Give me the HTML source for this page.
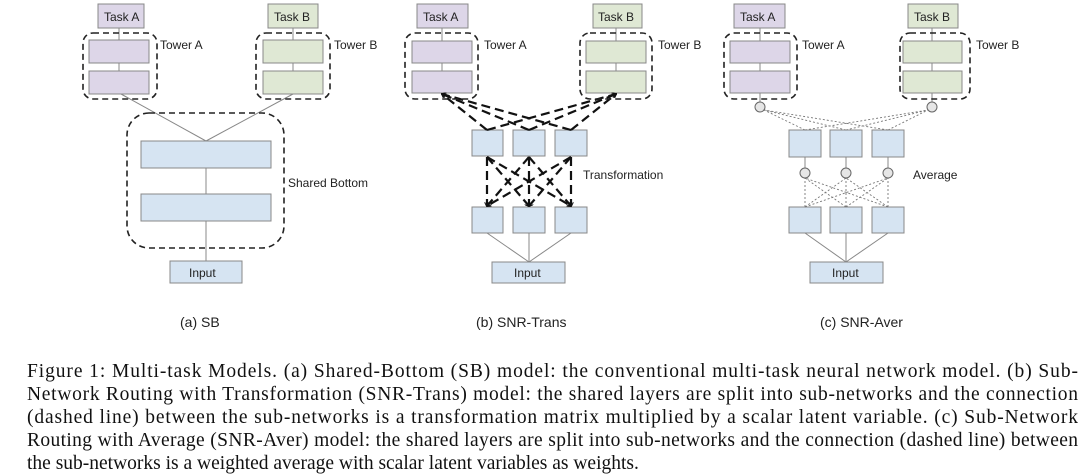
<!DOCTYPE html>
<html><head><meta charset="utf-8"><style>
html,body{margin:0;padding:0;background:#fff;}
svg{display:block;}
.s{font-family:"Liberation Sans",sans-serif;font-size:12px;fill:#222;}
.c{font-family:"Liberation Serif",serif;font-size:19.5px;fill:#111;}
</style></head><body>
<svg width="1080" height="474" viewBox="0 0 1080 474" xmlns="http://www.w3.org/2000/svg">
<defs>
<marker id="a" markerWidth="6" markerHeight="6" refX="5" refY="3" orient="auto"><path d="M0,0 L6,3 L0,6" fill="#555"/></marker>
<marker id="b" markerWidth="5" markerHeight="5" refX="4" refY="2.5" orient="auto" markerUnits="userSpaceOnUse"><path d="M0,0 L5,2.5 L0,5" fill="none" stroke="#111" stroke-width="1"/></marker>
</defs>
<g stroke="#888" stroke-width="1">
<!-- ===== Panel A ===== -->
<rect x="98" y="4" width="46" height="24" fill="#ddd6e8"/>
<rect x="268" y="4" width="50" height="24" fill="#dfe8d4"/>
<rect x="89" y="40" width="60" height="23" fill="#ddd6e8"/>
<rect x="89" y="71" width="60" height="23" fill="#ddd6e8"/>
<rect x="263" y="40" width="60" height="23" fill="#dfe8d4"/>
<rect x="263" y="71" width="60" height="23" fill="#dfe8d4"/>
<rect x="141" y="141" width="130" height="27" fill="#d6e4f2"/>
<rect x="141" y="194" width="130" height="27" fill="#d6e4f2"/>
<rect x="170" y="261" width="72" height="22" fill="#d6e4f2"/>
<line x1="206" y1="261" x2="206" y2="221"/><line x1="206" y1="194" x2="206" y2="168"/>
<line x1="206" y1="141" x2="121" y2="94"/><line x1="206" y1="141" x2="293" y2="94"/>
<line x1="119" y1="71" x2="119" y2="63"/><line x1="119" y1="40" x2="119" y2="28"/>
<line x1="293" y1="71" x2="293" y2="63"/><line x1="293" y1="40" x2="293" y2="28"/>
</g>
<g fill="none" stroke="#222" stroke-width="1.6" stroke-dasharray="6,4">
<rect x="83" y="33" width="74" height="66" rx="10"/>
<rect x="256" y="33" width="74" height="66" rx="10"/>
<rect x="127" y="113" width="157" height="135" rx="22"/>
</g>
<text class="s" x="160" y="49">Tower A</text>
<text class="s" x="334" y="49">Tower B</text>
<text class="s" x="288" y="187">Shared Bottom</text>
<text class="s" x="104" y="21">Task A</text>
<text class="s" x="274" y="21">Task B</text>
<text class="s" x="189" y="277">Input</text>
<text class="s" x="180" y="327" style="font-size:14px">(a) SB</text>

<!-- ===== Panel B ===== -->
<g stroke="#888" stroke-width="1">
<rect x="417" y="4" width="51" height="24" fill="#ddd6e8"/>
<rect x="593" y="4" width="49" height="24" fill="#dfe8d4"/>
<rect x="412" y="41" width="60" height="22" fill="#ddd6e8"/>
<rect x="412" y="71" width="60" height="22" fill="#ddd6e8"/>
<rect x="586" y="41" width="60" height="22" fill="#dfe8d4"/>
<rect x="586" y="71" width="60" height="22" fill="#dfe8d4"/>
<rect x="472" y="130" width="31" height="26" fill="#d6e4f2"/>
<rect x="513" y="130" width="32" height="26" fill="#d6e4f2"/>
<rect x="555" y="130" width="32" height="26" fill="#d6e4f2"/>
<rect x="472" y="207" width="31" height="26" fill="#d6e4f2"/>
<rect x="513" y="207" width="32" height="26" fill="#d6e4f2"/>
<rect x="555" y="207" width="32" height="26" fill="#d6e4f2"/>
<rect x="492" y="262" width="73" height="21" fill="#d6e4f2"/>
<line x1="529" y1="262" x2="487" y2="233"/><line x1="529" y1="262" x2="529" y2="233"/><line x1="529" y1="262" x2="571" y2="233"/>
<line x1="442" y1="71" x2="442" y2="63"/><line x1="442" y1="41" x2="442" y2="28"/>
<line x1="616" y1="71" x2="616" y2="63"/><line x1="616" y1="41" x2="616" y2="28"/>
</g>
<g fill="none" stroke="#111" stroke-width="2.2" stroke-dasharray="9,5" marker-end="url(#b)">
<line x1="487" y1="130" x2="442" y2="94"/><line x1="529" y1="130" x2="442" y2="94"/><line x1="571" y1="130" x2="442" y2="94"/>
<line x1="487" y1="130" x2="616" y2="94"/><line x1="529" y1="130" x2="616" y2="94"/><line x1="571" y1="130" x2="616" y2="94"/>
<line x1="487" y1="157" x2="487" y2="206"/><line x1="487" y1="157" x2="529" y2="206"/><line x1="487" y1="157" x2="571" y2="206"/>
<line x1="529" y1="157" x2="487" y2="206"/><line x1="529" y1="157" x2="529" y2="206"/><line x1="529" y1="157" x2="571" y2="206"/>
<line x1="571" y1="157" x2="487" y2="206"/><line x1="571" y1="157" x2="529" y2="206"/><line x1="571" y1="157" x2="571" y2="206"/>
</g>
<g fill="none" stroke="#222" stroke-width="1.6" stroke-dasharray="6,4">
<rect x="405" y="33" width="73" height="66" rx="10"/>
<rect x="580" y="33" width="72" height="66" rx="10"/>
</g>
<text class="s" x="484" y="49">Tower A</text>
<text class="s" x="658" y="49">Tower B</text>
<text class="s" x="583" y="179">Transformation</text>
<text class="s" x="423" y="21">Task A</text>
<text class="s" x="598" y="21">Task B</text>
<text class="s" x="514" y="277">Input</text>
<text class="s" x="476" y="327" style="font-size:14px">(b) SNR-Trans</text>

<!-- ===== Panel C ===== -->
<g stroke="#888" stroke-width="1">
<rect x="734" y="4" width="51" height="24" fill="#ddd6e8"/>
<rect x="908" y="4" width="50" height="24" fill="#dfe8d4"/>
<rect x="730" y="41" width="60" height="22" fill="#ddd6e8"/>
<rect x="730" y="71" width="60" height="22" fill="#ddd6e8"/>
<rect x="903" y="41" width="59" height="22" fill="#dfe8d4"/>
<rect x="903" y="71" width="59" height="22" fill="#dfe8d4"/>
<rect x="789" y="130" width="32" height="27" fill="#d6e4f2"/>
<rect x="830" y="130" width="32" height="27" fill="#d6e4f2"/>
<rect x="872" y="130" width="32" height="27" fill="#d6e4f2"/>
<rect x="789" y="207" width="32" height="26" fill="#d6e4f2"/>
<rect x="830" y="207" width="32" height="26" fill="#d6e4f2"/>
<rect x="872" y="207" width="32" height="26" fill="#d6e4f2"/>
<rect x="810" y="262" width="73" height="21" fill="#d6e4f2"/>
<line x1="846" y1="262" x2="805" y2="233"/><line x1="846" y1="262" x2="846" y2="233"/><line x1="846" y1="262" x2="888" y2="233"/>
<line x1="760" y1="71" x2="760" y2="63"/><line x1="760" y1="41" x2="760" y2="28"/>
<line x1="932" y1="71" x2="932" y2="63"/><line x1="932" y1="41" x2="932" y2="28"/>
<line x1="760" y1="102" x2="760" y2="93"/><line x1="932" y1="102" x2="932" y2="93"/>
<line x1="805" y1="168" x2="805" y2="157"/><line x1="846" y1="168" x2="846" y2="157"/><line x1="888" y1="168" x2="888" y2="157"/>
</g>
<g fill="none" stroke="#777" stroke-width="0.9" stroke-dasharray="2,2">
<line x1="805" y1="130" x2="764" y2="110"/><line x1="846" y1="130" x2="764" y2="110"/><line x1="888" y1="130" x2="764" y2="110"/>
<line x1="805" y1="130" x2="928" y2="110"/><line x1="846" y1="130" x2="928" y2="110"/><line x1="888" y1="130" x2="928" y2="110"/>
<line x1="805" y1="207" x2="805" y2="178"/><line x1="805" y1="207" x2="846" y2="178"/><line x1="805" y1="207" x2="888" y2="178"/>
<line x1="846" y1="207" x2="805" y2="178"/><line x1="846" y1="207" x2="846" y2="178"/><line x1="846" y1="207" x2="888" y2="178"/>
<line x1="888" y1="207" x2="805" y2="178"/><line x1="888" y1="207" x2="846" y2="178"/><line x1="888" y1="207" x2="888" y2="178"/>
</g>
<g fill="#e6e6e6" stroke="#666" stroke-width="1">
<circle cx="760" cy="107" r="5"/><circle cx="932" cy="107" r="5"/>
<circle cx="805" cy="173" r="5"/><circle cx="846" cy="173" r="5"/><circle cx="888" cy="173" r="5"/>
</g>
<g fill="none" stroke="#222" stroke-width="1.6" stroke-dasharray="6,4">
<rect x="724" y="33" width="73" height="66" rx="10"/>
<rect x="900" y="33" width="70" height="66" rx="10"/>
</g>
<text class="s" x="802" y="49">Tower A</text>
<text class="s" x="976" y="49">Tower B</text>
<text class="s" x="913" y="179">Average</text>
<text class="s" x="740" y="21">Task A</text>
<text class="s" x="914" y="21">Task B</text>
<text class="s" x="832" y="277">Input</text>
<text class="s" x="820" y="327" style="font-size:14px">(c) SNR-Aver</text>

<!-- caption -->
<text class="c" x="27" y="377" textLength="1051" lengthAdjust="spacing">Figure 1: Multi-task Models. (a) Shared-Bottom (SB) model: the conventional multi-task neural network model. (b) Sub-</text>
<text class="c" x="27" y="400" textLength="1051" lengthAdjust="spacing">Network Routing with Transformation (SNR-Trans) model: the shared layers are split into sub-networks and the connection</text>
<text class="c" x="27" y="423" textLength="1051" lengthAdjust="spacing">(dashed line) between the sub-networks is a transformation matrix multiplied by a scalar latent variable. (c) Sub-Network</text>
<text class="c" x="27" y="446" textLength="1051" lengthAdjust="spacing">Routing with Average (SNR-Aver) model: the shared layers are split into sub-networks and the connection (dashed line) between</text>
<text class="c" x="27" y="469">the sub-networks is a weighted average with scalar latent variables as weights.</text>
</svg>
</body></html>
